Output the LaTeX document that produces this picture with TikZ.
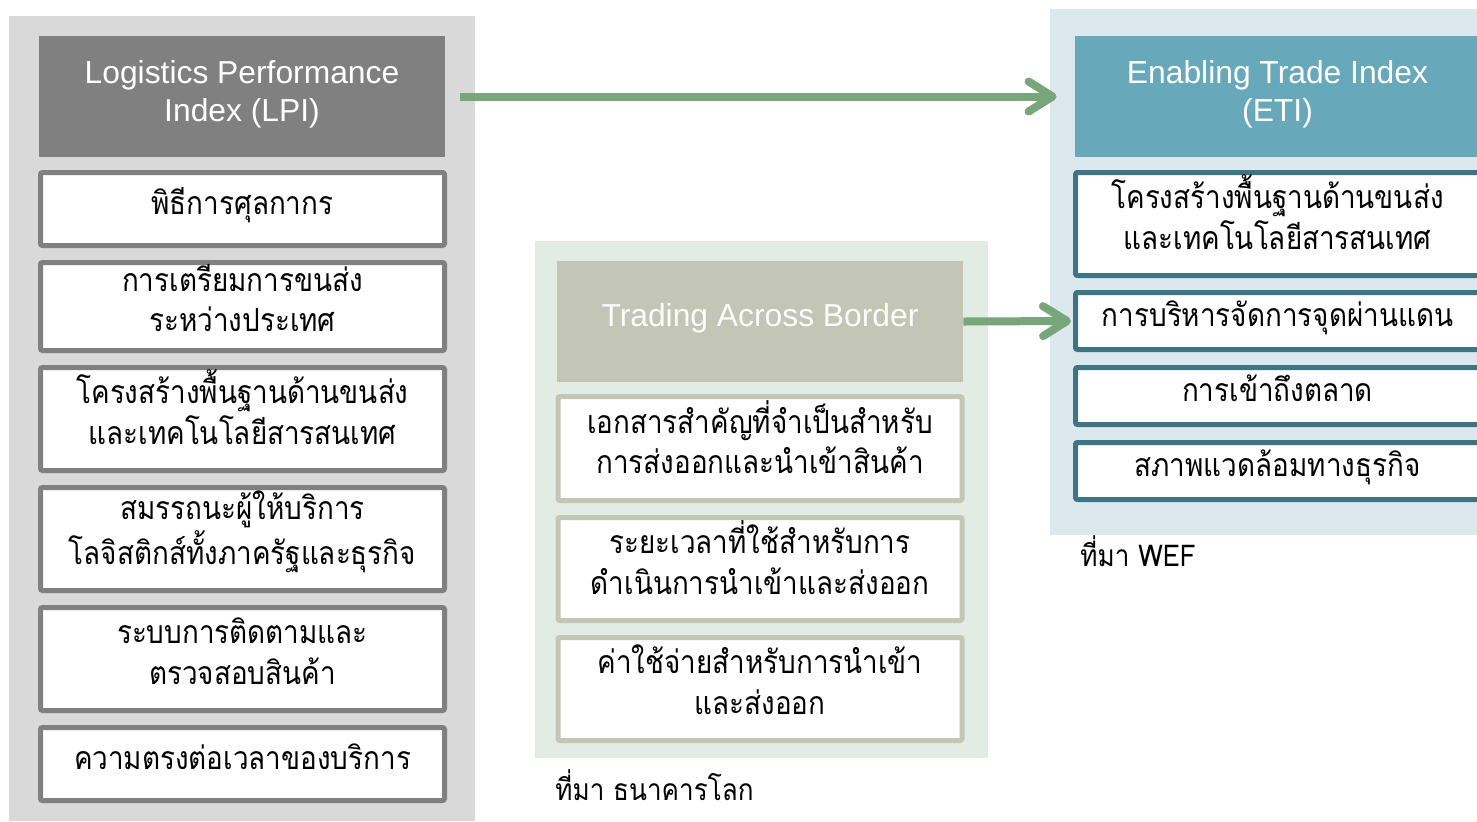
\documentclass[tikz,border=0pt]{standalone}
\usepackage{fontspec}
\setmainfont{Liberation Sans}
\newfontfamily\thai[Script=Thai, FakeStretch=0.87]{Loma}
\usetikzlibrary{arrows.meta}
\definecolor{lpibg}{RGB}{217,217,217}
\definecolor{lpihd}{RGB}{128,128,128}
\definecolor{tabbg}{RGB}{226,235,228}
\definecolor{tabhd}{RGB}{195,197,183}
\definecolor{etibg}{RGB}{219,233,239}
\definecolor{etihd}{RGB}{103,168,187}
\definecolor{etibd}{RGB}{63,116,130}
\definecolor{arr}{RGB}{118,166,122}
\newcommand\thtext{\thai\fontsize{16}{20.25}\selectfont}
\newcommand\thcap{\thai\fontsize{15}{20}\selectfont}
\tikzset{
  head/.style={inner sep=0pt, minimum width=203pt, minimum height=60.5pt, text=white, align=center, font=\fontsize{15.9}{18.8}\selectfont},
  headtwo/.style={text height=24.5pt, text depth=0pt},
  headone/.style={text height=5.2pt, text depth=0pt},
  itembox/.style={fill=white, line width=2.5pt, rounded corners=1pt, inner sep=0pt, align=center, minimum width=202pt, font=\thtext},
  one/.style={text height=5pt, text depth=0pt},
  two/.style={text height=25pt, text depth=0pt},
  lpiitem/.style={itembox, draw=lpihd},
  tabitem/.style={itembox, draw=tabhd},
  etiitem/.style={itembox, draw=etibd},
  conn/.style={draw=arr, line width=4pt, -{Straight Barb[length=12pt,width=15pt,round]}},
  caption/.style={anchor=base west, inner sep=0pt, font=\thcap}
}
\begin{document}
\begin{tikzpicture}[x=0.5pt,y=-0.5pt]
\useasboundingbox (0,0) rectangle (1477,821);
% backgrounds
\fill[lpibg] (9,16) rectangle (475,821);
\fill[tabbg] (535,241) rectangle (988,758);
\fill[etibg] (1050,9) rectangle (1490,535);
% LPI column
\node[head, headtwo, fill=lpihd] (lpi) at (242,96.5) {Logistics Performance\\Index (LPI)};
\node[lpiitem, one, minimum height=36.5pt] (l1) at (242.5,209) {พิธีการศุลกากร};
\node[lpiitem, two, minimum height=44pt] (l2) at (242.5,306.5) {การเตรียมการขนส่ง\\ระหว่างประเทศ};
\node[lpiitem, two, minimum height=51.5pt] (l3) at (242.5,419) {โครงสร้างพื้นฐานด้านขนส่ง\\และเทคโนโลยีสารสนเทศ};
\node[lpiitem, two, minimum height=51.5pt] (l4) at (242.5,539) {สมรรถนะผู้ให้บริการ\\โลจิสติกส์ทั้งภาครัฐและธุรกิจ};
\node[lpiitem, two, minimum height=51.5pt] (l5) at (242.5,659) {ระบบการติดตามและ\\ตรวจสอบสินค้า};
\node[lpiitem, one, minimum height=36.5pt] (l6) at (242.5,764) {ความตรงต่อเวลาของบริการ};
% Trading across border column
\node[head, headone, fill=tabhd, text=white!95!tabhd] (tab) at (760,321.5) {Trading Across Border};
\node[tabitem, two, minimum height=52pt] (t1) at (760,448.5) {เอกสารสำคัญที่จำเป็นสำหรับ\\การส่งออกและนำเข้าสินค้า};
\node[tabitem, two, minimum height=51.5pt] (t2) at (760,569) {ระยะเวลาที่ใช้สำหรับการ\\ดำเนินการนำเข้าและส่งออก};
\node[tabitem, two, minimum height=51.5pt] (t3) at (760,689) {ค่าใช้จ่ายสำหรับการนำเข้า\\และส่งออก};
\node[caption] (c1) at (555,800) {ที่มา ธนาคารโลก};
% ETI column
\node[head, headtwo, fill=etihd, minimum width=202.5pt] (eti) at (1277.5,96.5) {Enabling Trade Index\\(ETI)};
\node[etiitem, two, minimum height=51.5pt] (e1) at (1277.5,224) {โครงสร้างพื้นฐานด้านขนส่ง\\และเทคโนโลยีสารสนเทศ};
\node[etiitem, one, minimum height=28.5pt] (e2) at (1277.5,321) {การบริหารจัดการจุดผ่านแดน};
\node[etiitem, one, minimum height=28.5pt] (e3) at (1277.5,396) {การเข้าถึงตลาด};
\node[etiitem, one, minimum height=28.5pt] (e4) at (1277.5,471) {สภาพแวดล้อมทางธุรกิจ};
\node[caption] (c2) at (1080,566) {ที่มา WEF};
% connectors
\draw[conn] ([xshift=7.5pt]lpi.east) -- ([xshift=-9pt]eti.west);
\draw[conn] (tab.east) -- ([xshift=-1pt]e2.west);
\end{tikzpicture}
\end{document}
